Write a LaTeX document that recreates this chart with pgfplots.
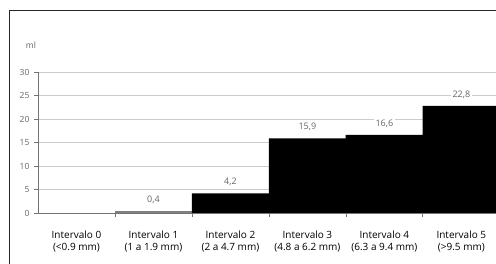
\documentclass[border=0pt]{standalone}
\usepackage{pgfplots}
\pgfplotsset{compat=1.18}
\usepackage{fontspec}
\setmainfont{Open Sans}
\begin{document}
\begin{tikzpicture}[x=1pt,y=1pt]
\useasboundingbox (0,0) rectangle (496,264);
\draw[line width=0.9pt, black!85] (9,0) -- (9,254) -- (496,254);
\begin{axis}[
  at={(38pt,51pt)}, anchor=south west, scale only axis,
  width=458pt, height=141pt,
  xmin=-0.5, xmax=5.45, ymin=0, ymax=30,
  axis lines=left,
  axis line style={-, draw=black!55, line width=0.8pt},
  tick style={black!55, line width=0.8pt},
  tick align=outside,
  major tick length=4pt,
  ytick={0,5,...,30},
  ymajorgrids, grid style={black!20, line width=0.8pt},
  /pgf/number format/assume math mode=true,
  yticklabel style={font=\fontsize{8.5}{9}\selectfont, text=black!60, xshift=-1pt},
  xtick={0.5,1.5,2.5,3.5,4.5}, xticklabels={},
  extra x ticks={0,1,2,3,4,5},
  extra x tick labels={{Intervalo 0\\(<0.9 mm)},{Intervalo 1\\(1 a 1.9 mm)},{Intervalo 2\\(2 a 4.7 mm)},{Intervalo 3\\(4.8 a 6.2 mm)},{Intervalo 4\\(6.3 a 9.4 mm)},{Intervalo 5\\(>9.5 mm)}},
  extra x tick style={major tick length=0pt, xticklabel style={align=center, font=\fontsize{10}{12}\selectfont, text=black, yshift=-14pt}},
  nodes near coords={\pgfmathprintnumber[use comma,fixed,fixed zerofill,precision=1]{\pgfplotspointmeta}},
  nodes near coords style={anchor=center, yshift=11pt, fill=white, inner sep=1.5pt, font=\fontsize{9}{10}\selectfont, text=black!60},
]
\addplot[ybar, bar width=77pt, bar shift=0pt, fill=black!50, draw=none] coordinates {(1,0.4)};
\addplot[ybar, bar width=77.3pt, bar shift=0pt, fill=black, draw=none] coordinates {(2,4.2) (3,15.9) (4,16.6) (5,22.8)};
\end{axis}
\node[font=\fontsize{8.5}{9}\selectfont, text=black!60] at (31,219) {ml};
\end{tikzpicture}
\end{document}
